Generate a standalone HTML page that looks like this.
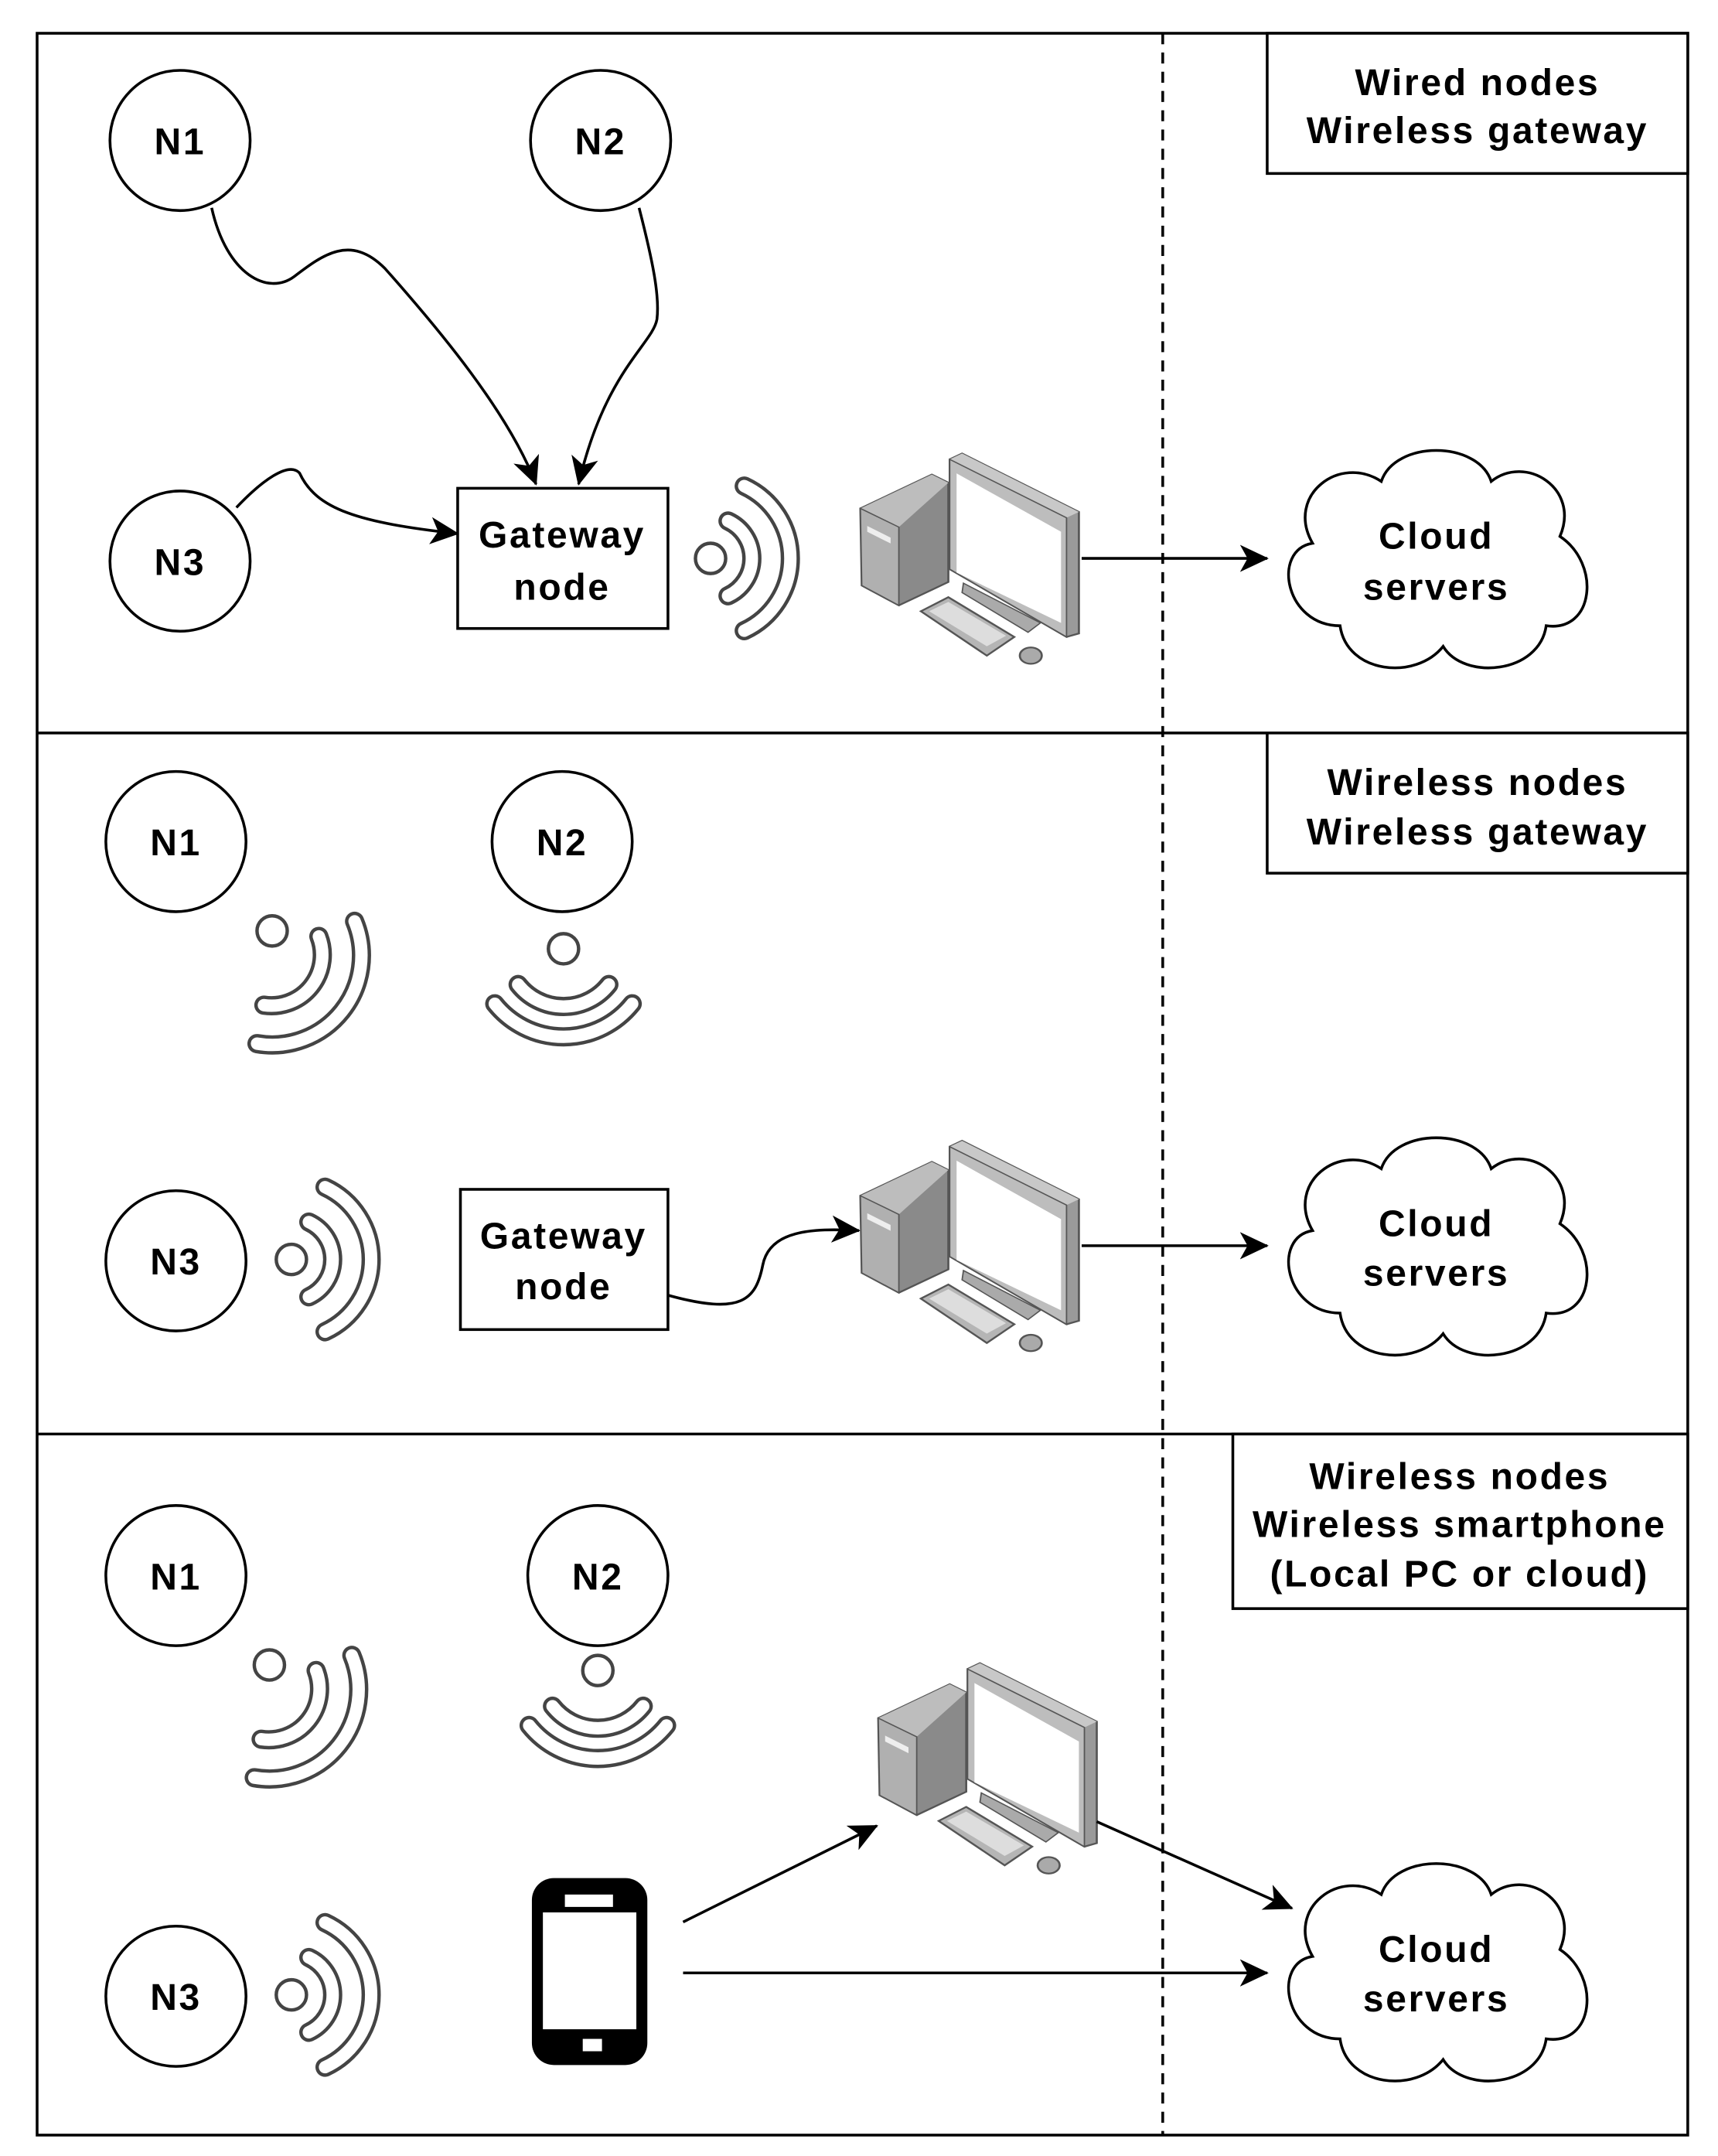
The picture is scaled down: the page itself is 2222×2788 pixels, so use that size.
<!DOCTYPE html>
<html><head><meta charset="utf-8"><style>html,body{margin:0;padding:0;background:#fff}svg{display:block}</style></head>
<body>
<svg xmlns="http://www.w3.org/2000/svg" width="2222" height="2788" viewBox="0 0 1250 1568">
<defs>
<marker id="a2" viewBox="0 0 20 20" refX="18" refY="10" markerWidth="22" markerHeight="22" markerUnits="userSpaceOnUse" orient="auto">
<path d="M0,1 L19,10 L0,19 L5,10 Z" fill="#000"/>
</marker>
<g id="pc">
<g transform="translate(0,328) scale(1,0.85) translate(0,-328)">
<polygon points="626,377 678,348 690,355 690,440 654,460 627,443" fill="#8a8a8a" stroke="#555" stroke-width="1.5"/>
<polygon points="626,377 678,348 690,355 654,393" fill="#bdbdbd"/>
<polygon points="626,377 654,393 654,460 627,443" fill="#b0b0b0" stroke="#555" stroke-width="1"/>
<polygon points="631,392 648,402 648,407 631,397" fill="#eee"/>
<polygon points="691,335 700,330 785,380 785,484 776,487 691,429" fill="#9a9a9a" stroke="#555" stroke-width="1.5"/>
<polygon points="691,335 700,330 785,380 776,385" fill="#c8c8c8"/>
<polygon points="691,335 776,385 776,487 691,429" fill="#bdbdbd" stroke="#555" stroke-width="1"/>
<polygon points="696,347 772,397 772,475 696,432" fill="#fff"/>
<polygon points="701,441 757,475 748,483 700,449" fill="#aaa" stroke="#555" stroke-width="1"/>
<polygon points="670,465 690,453 738,487 718,503" fill="#b5b5b5" stroke="#555" stroke-width="1.5"/>
<polygon points="676,465 690,457 732,486 718,495" fill="#ddd"/>
<ellipse cx="750" cy="503" rx="8" ry="7" fill="#aaa" stroke="#555" stroke-width="1.5"/>
</g>
</g>
<g id="wr">
<circle cx="0" cy="0" r="11" fill="none" stroke="#444" stroke-width="2.5"/>
<path d="M 12.7,-27.2 A 30 30 0 0 1 12.7,27.2 M 24.5,-52.6 A 58 58 0 0 1 24.5,52.6" fill="none" stroke="#444" stroke-width="14" stroke-linecap="round"/>
<path d="M 12.7,-27.2 A 30 30 0 0 1 12.7,27.2 M 24.5,-52.6 A 58 58 0 0 1 24.5,52.6" fill="none" stroke="#fff" stroke-width="9" stroke-linecap="round"/>
</g>
<g id="wc">
<path d="M 34,-14 A 37 37 0 0 1 -6,36 M 60,-25 A 65 65 0 0 1 -11,64" fill="none" stroke="#444" stroke-width="14" stroke-linecap="round"/>
<path d="M 34,-14 A 37 37 0 0 1 -6,36 M 60,-25 A 65 65 0 0 1 -11,64" fill="none" stroke="#fff" stroke-width="9" stroke-linecap="round"/>
<circle cx="0" cy="-18" r="11" fill="none" stroke="#444" stroke-width="2.5"/>
</g>
<g id="wd">
<circle cx="0" cy="0" r="11" fill="none" stroke="#444" stroke-width="2.5"/>
<path d="M -33,26 A 42 42 0 0 0 33,26 M -50,40 A 64 64 0 0 0 50,40" fill="none" stroke="#444" stroke-width="14" stroke-linecap="round"/>
<path d="M -33,26 A 42 42 0 0 0 33,26 M -50,40 A 64 64 0 0 0 50,40" fill="none" stroke="#fff" stroke-width="9" stroke-linecap="round"/>
</g>
<path id="cl" d="M975,455 C935,455 925,400 955,395 C935,360 975,330 1005,350 C1015,320 1075,320 1085,350 C1110,330 1150,355 1135,390 C1165,410 1160,460 1125,455 C1120,490 1065,495 1050,470 C1030,495 980,490 975,455 Z" fill="#fff" stroke="#000" stroke-width="2"/>
</defs>
<g font-family="Liberation Sans, Arial, sans-serif" font-weight="bold" font-size="27" letter-spacing="1.5" text-anchor="middle" fill="#000">
<rect x="27" y="24" width="1201" height="1529" fill="none" stroke="#000" stroke-width="2"/>
<line x1="27" y1="533" x2="1228" y2="533" stroke="#000" stroke-width="2"/>
<line x1="27" y1="1043" x2="1228" y2="1043" stroke="#000" stroke-width="2"/>
<line x1="846" y1="24" x2="846" y2="1553" stroke="#000" stroke-width="2" stroke-dasharray="8,6"/>

<rect x="922" y="24" width="306" height="102" fill="#fff" stroke="#000" stroke-width="2"/>
<text x="1075" y="69">Wired nodes</text><text x="1075" y="104">Wireless gateway</text>
<rect x="922" y="533" width="306" height="102" fill="#fff" stroke="#000" stroke-width="2"/>
<text x="1075" y="578">Wireless nodes</text><text x="1075" y="614">Wireless gateway</text>
<rect x="897" y="1043" width="331" height="127" fill="#fff" stroke="#000" stroke-width="2"/>
<text x="1062" y="1083">Wireless nodes</text><text x="1062" y="1118">Wireless smartphone</text><text x="1062" y="1154">(Local PC or cloud)</text>

<g fill="#fff" stroke="#000" stroke-width="2">
<circle cx="131" cy="102" r="51"/><circle cx="437" cy="102" r="51"/><circle cx="131" cy="408" r="51"/>
<rect x="333" y="355" width="153" height="102"/>
</g>
<text x="131" y="112">N1</text><text x="437" y="112">N2</text><text x="131" y="418">N3</text>
<text x="409" y="398">Gateway</text><text x="409" y="436">node</text>
<g fill="none" stroke="#000" stroke-width="2">
<path d="M154,151 C165,200 195,215 214,201 C235,185 255,170 280,195 C320,240 370,300 390,352" marker-end="url(#a2)"/>
<path d="M465,151 C475,190 480,215 478,232 C475,250 440,270 421,352" marker-end="url(#a2)"/>
<path d="M172,369 C190,350 210,335 218,344 C230,370 260,380 333,388" marker-end="url(#a2)"/>
<path d="M787,406 L922,406" marker-end="url(#a2)"/>
</g>
<use href="#wr" transform="translate(517,406)"/>
<use href="#pc"/>
<use href="#cl"/>
<text x="1045" y="399">Cloud</text><text x="1045" y="436">servers</text>

<g fill="#fff" stroke="#000" stroke-width="2">
<circle cx="128" cy="612" r="51"/><circle cx="409" cy="612" r="51"/><circle cx="128" cy="917" r="51"/>
<rect x="335" y="865" width="151" height="102"/>
</g>
<text x="128" y="622">N1</text><text x="409" y="622">N2</text><text x="128" y="927">N3</text>
<text x="410" y="908">Gateway</text><text x="410" y="945">node</text>
<use href="#wc" transform="translate(198,695)"/>
<use href="#wd" transform="translate(410,690)"/>
<use href="#wr" transform="translate(212,916)"/>
<g fill="none" stroke="#000" stroke-width="2">
<path d="M486,942 C540,957 550,945 555,920 C560,895 590,893 625,895" marker-end="url(#a2)"/>
<path d="M787,906 L922,906" marker-end="url(#a2)"/>
</g>
<use href="#pc" transform="translate(0,500)"/>
<use href="#cl" transform="translate(0,500)"/>
<text x="1045" y="899">Cloud</text><text x="1045" y="935">servers</text>

<g fill="#fff" stroke="#000" stroke-width="2">
<circle cx="128" cy="1146" r="51"/><circle cx="435" cy="1146" r="51"/><circle cx="128" cy="1452" r="51"/>
</g>
<text x="128" y="1156">N1</text><text x="435" y="1156">N2</text><text x="128" y="1462">N3</text>
<use href="#wc" transform="translate(196,1229)"/>
<use href="#wd" transform="translate(435,1215)"/>
<use href="#wr" transform="translate(212,1451)"/>
<rect x="387" y="1366" width="84" height="136" rx="16" fill="#000"/>
<rect x="395" y="1391" width="68" height="85" fill="#fff"/>
<rect x="411" y="1378" width="35" height="9" fill="#fff"/>
<rect x="424" y="1483" width="14" height="9" fill="#fff"/>
<use href="#pc" transform="translate(13,880)"/>
<g fill="none" stroke="#000" stroke-width="2">
<path d="M497,1398 L638,1328" marker-end="url(#a2)"/>
<path d="M798,1325 L940,1388" marker-end="url(#a2)"/>
<path d="M497,1435 L922,1435" marker-end="url(#a2)"/>
</g>
<use href="#cl" transform="translate(0,1028)"/>
<text x="1045" y="1427">Cloud</text><text x="1045" y="1463">servers</text>
</g>
</svg>
</body></html>
